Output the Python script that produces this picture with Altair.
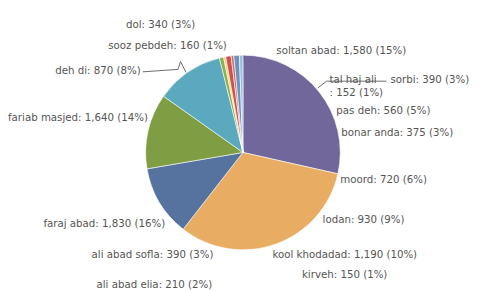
import altair as alt
import pandas as pd

# ---- pie slices as drawn (clockwise from 12 o'clock), sizes in degrees
slice_ids = ["s1", "s2", "s3", "s4", "s5", "s6", "s7", "s8", "s9", "s10", "s11"]
slice_deg = [102.7, 115.2, 42.4, 45.0, 40.7, 2.5, 1.3, 3.2, 1.6, 3.3, 2.1]
slice_colors = ["#72679a", "#e8ac62", "#55739e", "#7f9d42", "#5aa9be",
                "#8db04a", "#f2d27a", "#d2514a", "#c9706a", "#6f93c0", "#9dbde0"]

# ---- data labels
names = ["soltan abad", "sorbi", "tal haj ali", "pas deh", "bonar anda", "moord",
         "lodan", "kool khodadad", "kirveh", "ali abad elia", "ali abad sofla",
         "faraj abad", "fariab masjed", "deh di", "sooz pebdeh", "dol"]
values = [1580, 390, 152, 560, 375, 720, 930, 1190, 150, 210, 390, 1830, 1640, 870, 160, 340]
pcts = [15, 3, 1, 5, 3, 6, 9, 10, 1, 2, 3, 16, 14, 8, 1, 3]

# label anchor layout (left edge, vertical middle of first line), page pixels
label_x = [281, 397, 335, 342, 347, 346, 328, 277, 307, 98, 93, 44, 8, 56, 110, 128]
label_y = [49, 79, 79, 110, 133, 181, 221, 257, 277, 287, 257, 225, 118, 70, 44, 23]

OFF = 8  # page margin
texts = []
for n, v, p in zip(names, values, pcts):
    if n == "tal haj ali":
        texts.append(f"{n}\n: {v:,} ({p}%)")
    else:
        texts.append(f"{n}: {v:,} ({p}%)")

slices = pd.DataFrame({"id": slice_ids, "deg": slice_deg,
                       "idx": list(range(len(slice_ids)))})
labels = pd.DataFrame({"t": texts,
                       "lx": [x - OFF for x in label_x],
                       "ly": [y - OFF for y in label_y]})

# leader lines (page pixels)
leaders = pd.DataFrame({
    "g": ["a", "a", "a", "a", "b", "b", "b"],
    "o": [0, 1, 2, 3, 0, 1, 2],
    "x": [145, 181, 183.5, 189, 323, 332, 393],
    "y": [70.5, 68, 60, 71, 87, 80, 80],
})
leaders["x"] = leaders["x"] - OFF
leaders["y"] = leaders["y"] - OFF

CX, CY = 247 - OFF, 152.5 - OFF

pie = alt.Chart(slices).mark_arc(radius=99, stroke="white", strokeWidth=0.6).encode(
    theta=alt.Theta("deg:Q", stack=True, scale=alt.Scale(domain=[0, 360])),
    order=alt.Order("idx:Q"),
    color=alt.Color("id:N", scale=alt.Scale(domain=slice_ids, range=slice_colors), legend=None),
    x=alt.value(CX),
    y=alt.value(CY),
)

shade = alt.Chart(pd.DataFrame({"v": [1]})).mark_arc(
    radius=99,
    fill={"gradient": "radial", "x1": 0.5, "y1": 0.5, "r1": 0.0, "x2": 0.5, "y2": 0.5, "r2": 0.5,
          "stops": [{"offset": 0, "color": "rgba(255,255,255,0.14)"},
                    {"offset": 0.7, "color": "rgba(255,255,255,0.0)"},
                    {"offset": 1, "color": "rgba(0,0,0,0.16)"}]},
).encode(theta=alt.Theta("v:Q"), x=alt.value(CX), y=alt.value(CY))

lines = alt.Chart(leaders).mark_line(color="#6a6a6a", strokeWidth=1).encode(
    x=alt.X("x:Q", scale=None, axis=None),
    y=alt.Y("y:Q", scale=None, axis=None),
    detail="g:N",
    order="o:Q",
)

text = alt.Chart(labels).mark_text(
    align="left", baseline="middle", font="DejaVu Sans", fontSize=10.4,
    color="#555555", lineBreak="\n", lineHeight=13,
).encode(
    x=alt.X("lx:Q", scale=None, axis=None),
    y=alt.Y("ly:Q", scale=None, axis=None),
    text="t:N",
)

chart = alt.layer(pie, shade, lines, text).properties(
    width=472, height=283, padding=0,
    autosize=alt.AutoSizeParams(type="none"),
    background="white",
).configure_view(stroke=None)

chart.save("out.html", embed_options={"renderer": "svg", "actions": False})
